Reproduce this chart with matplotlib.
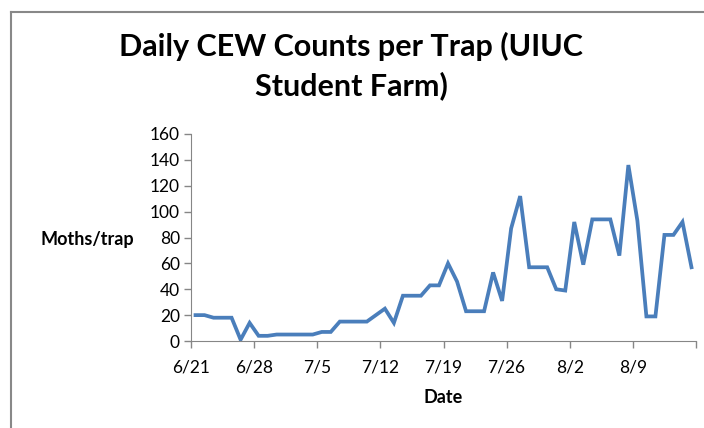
import numpy as np
import pandas as pd
import matplotlib
matplotlib.use("Agg")
import matplotlib.pyplot as plt
import matplotlib.dates as mdates
from matplotlib.lines import Line2D

# daily counts, 6/21 .. 8/15
dates = pd.date_range("2012-06-21", periods=56, freq="D")
counts = [20, 20, 18, 18, 18, 1, 14, 4, 4, 5,
          5, 5, 5, 5, 7, 7, 15, 15, 15, 15,
          20, 25, 14, 35, 35, 35, 43, 43, 60, 46,
          23, 23, 23, 53, 31, 87, 112, 57, 57, 57,
          40, 39, 92, 59, 94, 94, 94, 66, 136, 93,
          19, 19, 82, 82, 92, 57]

tick_dates = pd.date_range("2012-06-21", periods=9, freq="7D")
tick_labels = ["6/21", "6/28", "7/5", "7/12", "7/19", "7/26", "8/2", "8/9", ""]
y_ticks = list(range(0, 161, 20))

plt.rcParams["font.family"] = ["Lato", "DejaVu Sans"]

fig = plt.figure(figsize=(7.04, 4.28), dpi=100)
ax = fig.add_axes([191 / 704, 1 - 341 / 428, (696 - 191) / 704, (341 - 134) / 428])

# Excel puts each day in the middle of its slot
x = dates + pd.Timedelta(hours=12)
ax.plot(x, counts, color="#4A7EBB", lw=2.7, solid_joinstyle="miter")

ax.set_xlim(tick_dates[0], tick_dates[-1])
ax.set_ylim(0, 160)
ax.set_xticks(tick_dates)
ax.set_xticklabels(tick_labels)
ax.set_yticks(y_ticks)
ax.tick_params(axis="both", colors="#868686", labelcolor="black", labelsize=12.5,
               length=5, width=1, direction="out")
ax.tick_params(axis="x", pad=8)
ax.tick_params(axis="y", pad=3)
for s in ["top", "right"]:
    ax.spines[s].set_visible(False)
for s in ["left", "bottom"]:
    ax.spines[s].set_color("#868686")

ax.set_xlabel("Date", fontsize=13, fontweight="bold", labelpad=10)
fig.text(40 / 704, 1 - 240 / 428, "Moths/trap", fontsize=13, fontweight="bold",
         ha="left", va="center")

fig.text(351 / 704, 1 - 66 / 428, "Daily CEW Counts per Trap (UIUC\nStudent Farm)",
         fontsize=22, fontweight="bold", ha="center", va="center", linespacing=1.4)

# outer chart frame
fig.add_artist(Line2D([11 / 704, 11 / 704], [0, 1 - 12 / 428], color="#888888", lw=1.5,
                      transform=fig.transFigure))
fig.add_artist(Line2D([11 / 704, 1], [1 - 12 / 428, 1 - 12 / 428], color="#888888", lw=1.5,
                      transform=fig.transFigure))

fig.savefig("out.png", dpi=100)
